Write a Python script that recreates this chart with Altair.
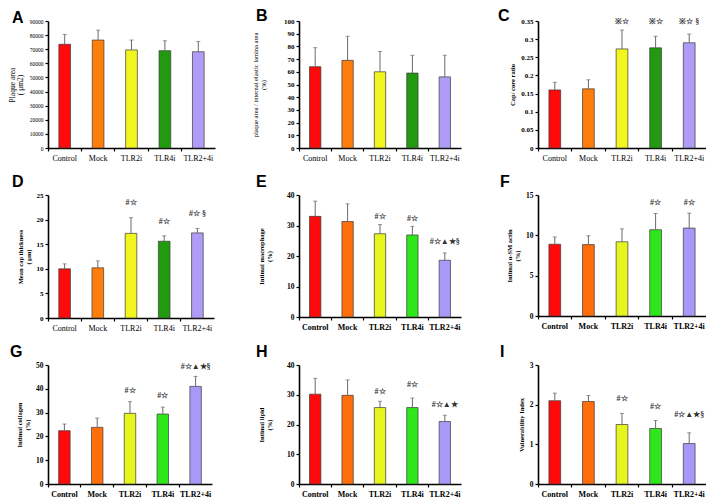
import altair as alt
import pandas as pd

groups = ["Control", "Mock", "TLR2i", "TLR4i", "TLR2+4i"]
colors_dark = ["#ff0a0a", "#ff7d0a", "#f2f51e", "#229a10", "#b09cf6"]
colors_bright = ["#ff0a0a", "#ff6e0a", "#e6f51e", "#2ee61a", "#a898f8"]

A_mean = [73500, 76500, 69500, 69000, 68200]
A_err = [7000, 7000, 7000, 7000, 7300]
A_ticks = [0, 10000, 20000, 30000, 40000, 50000, 60000, 70000, 80000, 90000]

B_mean = [64, 69, 60, 59, 56]
B_err = [15, 19, 16, 14, 17]
B_ticks = [0, 10, 20, 30, 40, 50, 60, 70, 80, 90, 100]

C_mean = [0.160, 0.163, 0.273, 0.276, 0.290]
C_err = [0.021, 0.025, 0.052, 0.032, 0.024]
C_ticks = [0, 0.05, 0.1, 0.15, 0.2, 0.25, 0.3, 0.35]
C_ann = ["", "", "※☆", "※☆", "※☆ §"]
C_ann_y = [0, 0, 0.347, 0.347, 0.347]

D_mean = [10.0, 10.2, 17.2, 15.6, 17.3]
D_err = [1.0, 1.4, 3.2, 1.1, 0.9]
D_ticks = [0, 5, 10, 15, 20, 25]
D_ann = ["", "", "#☆", "#☆", "#☆ §"]
D_ann_y = [0, 0, 23.4, 19.5, 21.2]

E_mean = [33.0, 31.3, 27.3, 26.9, 18.6]
E_err = [5.0, 5.8, 3.0, 2.8, 2.4]
E_ticks = [0, 10, 20, 30, 40]
E_ann = ["", "", "#☆", "#☆", "#☆▲★§"]
E_ann_y = [0, 0, 32.7, 32.0, 24.7]

F_mean = [8.9, 8.85, 9.2, 10.7, 10.9]
F_err = [0.9, 1.1, 1.6, 2.0, 1.85]
F_ticks = [0, 5, 10, 15]
F_ann = ["", "", "", "#☆", "#☆"]
F_ann_y = [0, 0, 0, 14.0, 14.0]

G_mean = [22.4, 23.8, 29.7, 29.4, 41.0]
G_err = [2.8, 3.9, 4.9, 2.9, 4.2]
G_ticks = [0, 10, 20, 30, 40, 50]
G_ann = ["", "", "#☆", "#☆", "#☆▲★§"]
G_ann_y = [0, 0, 38.9, 37.1, 49.0]

H_mean = [30.2, 29.8, 25.7, 25.7, 21.0]
H_err = [5.3, 5.2, 2.1, 3.2, 2.1]
H_ticks = [0, 10, 20, 30, 40]
H_ann = ["", "", "#☆", "#☆", "#☆▲★"]
H_ann_y = [0, 0, 31.0, 33.2, 26.6]

I_mean = [2.10, 2.08, 1.50, 1.40, 1.02]
I_err = [0.19, 0.15, 0.28, 0.20, 0.27]
I_ticks = [0, 1, 2, 3]
I_ann = ["", "", "#☆", "#☆", "#☆▲★§"]
I_ann_y = [0, 0, 2.14, 1.94, 1.75]

empty_ann = ["", "", "", "", ""]
zero_y = [0, 0, 0, 0, 0]

SERIF = "Liberation Serif"


def panel(letter, means, errs, ticks, ytitle, colors, ann, ann_y, w, h,
          letter_dx, xbold, ybold, ylabel_size, ytitle_bold, ytitle_size=7,
          title_pad=5, letter_dy=0):
    df = pd.DataFrame({
        "g": groups,
        "v": means,
        "top": [m + e for m, e in zip(means, errs)],
        "c": colors,
        "ann": ann,
        "ay": ann_y,
    })
    base = alt.Chart(df)
    x = alt.X("g:N", sort=groups,
              scale=alt.Scale(paddingInner=0, paddingOuter=0),
              axis=alt.Axis(title=None, labelAngle=0, bandPosition=0,
                            labelFont=SERIF, labelFontSize=8,
                            labelFontWeight="bold" if xbold else "normal",
                            labelColor="black", labelPadding=3,
                            domainColor="black", domainWidth=1.6,
                            tickColor="black", tickSize=3, tickWidth=1.2,
                            grid=False))
    yscale = alt.Scale(domain=[ticks[0], ticks[-1]], nice=False, zero=True)
    yaxis = alt.Axis(values=ticks, labelExpr="'' + datum.value",
                     labelOverlap=False, title=ytitle,
                     labelFont=SERIF, labelFontSize=ylabel_size,
                     labelFontWeight="bold" if ybold else "normal",
                     labelColor="black", labelPadding=2,
                     domainColor="black", domainWidth=1.6,
                     tickColor="black", tickSize=3, tickWidth=1.2,
                     titleFont=SERIF, titleFontSize=ytitle_size,
                     titleFontWeight="bold" if ytitle_bold else "normal",
                     titleColor="black", titlePadding=title_pad,
                     titleLineHeight=8, grid=False)
    bars = base.mark_bar(width=alt.RelativeBandSize(0.35), stroke="#3a3a3a",
                         strokeWidth=0.7).encode(
        x=x, y=alt.Y("v:Q", scale=yscale, axis=yaxis),
        color=alt.Color("c:N", scale=None))
    rule = base.mark_rule(color="#6a6a6a", strokeWidth=1).encode(
        x=x, y=alt.Y("v:Q", scale=yscale, axis=yaxis), y2="top:Q")
    cap = base.mark_tick(size=4, thickness=1, color="#6a6a6a").encode(
        x=x, y=alt.Y("top:Q", scale=yscale, axis=yaxis))
    text = base.mark_text(font=SERIF, fontSize=8, fontWeight="bold",
                          color="#333333", baseline="middle").encode(
        x=x, y=alt.Y("ay:Q", scale=yscale, axis=yaxis), text="ann:N")
    return alt.layer(bars, rule, cap, text).properties(
        width=w, height=h,
        title=alt.TitleParams(letter, anchor="start", frame="group",
                              dx=letter_dx, dy=letter_dy, offset=1,
                              font="Liberation Sans",
                              fontSize=16, fontWeight="bold", color="black"))


pA = panel("A", A_mean, A_err, A_ticks, ["Plaque area", "( μm2)"], colors_dark,
           empty_ann, zero_y, 167, 127, -36, False, False, 5.5, False, 7.5,
           letter_dy=8)
pB = panel("B", B_mean, B_err, B_ticks,
           ["plaque area / internal elastic lamina area", "(%)"], colors_dark,
           empty_ann, zero_y, 162, 127, -43, False, True, 7, False, 6.5,
           title_pad=17, letter_dy=8)
pC = panel("C", C_mean, C_err, C_ticks, "Cap/ core ratio", colors_dark,
           C_ann, C_ann_y, 168, 127, -40, False, True, 7, True, 6.5,
           letter_dy=8)
pD = panel("D", D_mean, D_err, D_ticks, ["Mean cap thickness", "( μm)"], colors_dark,
           D_ann, D_ann_y, 166, 123, -36, False, True, 7, True, 6.5)
pE = panel("E", E_mean, E_err, E_ticks, ["Intimal macrophage", "(%)"], colors_bright,
           E_ann, E_ann_y, 162, 122, -43, True, True, 7.5, True, 6.5,
           title_pad=14)
pF = panel("F", F_mean, F_err, F_ticks, ["Intimal α-SM actin", "(%)"], colors_bright,
           F_ann, F_ann_y, 168, 121, -38, True, True, 7.5, True, 6.5)
pG = panel("G", G_mean, G_err, G_ticks, ["Intimal collagen", "(%)"], colors_bright,
           G_ann, G_ann_y, 164, 119, -38, True, True, 7.5, True, 6.5)
pH = panel("H", H_mean, H_err, H_ticks, ["Intimal lipid", "(%)"], colors_bright,
           H_ann, H_ann_y, 162, 119, -43, True, True, 7.5, True, 6.5,
           title_pad=14)
pI = panel("I", I_mean, I_err, I_ticks, "Vulnerability Index", colors_bright,
           I_ann, I_ann_y, 168, 119, -38, True, True, 7.5, True, 6.5)

chart = alt.concat(pA, pB, pC, pD, pE, pF, pG, pH, pI, columns=3,
                   spacing={"row": 12, "column": 37}).properties(
    padding=0, background="white"
).configure_view(stroke=None)

chart.save("out.html", embed_options={"renderer": "svg", "actions": False})
